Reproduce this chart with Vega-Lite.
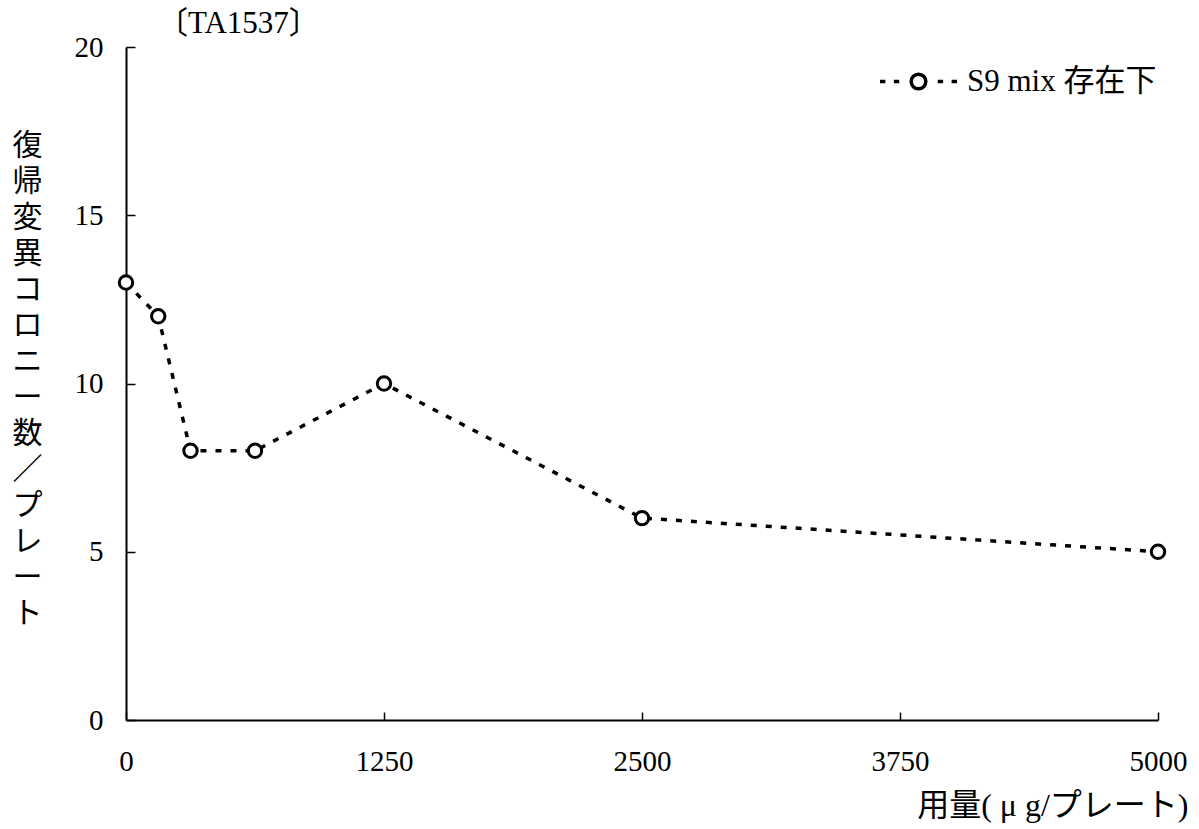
{
  "$schema": "https://vega.github.io/schema/vega-lite/v6.json",
  "width": 1032,
  "height": 673,
  "autosize": {"type": "none"},
  "padding": {"left": 126, "top": 47, "right": 41, "bottom": 109},
  "background": "white",
  "title": {
    "text": "〔TA1537〕",
    "anchor": "start",
    "dx": 145,
    "offset": -31,
    "baseline": "alphabetic",
    "font": "Liberation Serif, Noto Sans CJK JP",
    "fontSize": 31,
    "fontWeight": "normal",
    "color": "black"
  },
  "data": {
    "values": [
      {"dose": 0, "count": 13, "series": "S9 mix 存在下"},
      {"dose": 156.25, "count": 12, "series": "S9 mix 存在下"},
      {"dose": 312.5, "count": 8, "series": "S9 mix 存在下"},
      {"dose": 625, "count": 8, "series": "S9 mix 存在下"},
      {"dose": 1250, "count": 10, "series": "S9 mix 存在下"},
      {"dose": 2500, "count": 6, "series": "S9 mix 存在下"},
      {"dose": 5000, "count": 5, "series": "S9 mix 存在下"}
    ]
  },
  "encoding": {
    "x": {
      "field": "dose",
      "type": "quantitative",
      "scale": {"domain": [0, 5000], "nice": false, "zero": true},
      "axis": {
        "values": [0, 1250, 2500, 3750, 5000],
        "format": "d",
        "title": "用量( μ g/プレート)",
        "titleAnchor": "end",
        "titleAlign": "right",
        "titleX": 1062,
        "titleY": 85,
        "titleBaseline": "middle",
        "titleFont": "Liberation Serif, Noto Sans CJK JP",
        "titleFontSize": 32,
        "titleFontWeight": "normal",
        "titleColor": "black",
        "grid": false,
        "tickSize": -8,
        "tickWidth": 1.5,
        "tickColor": "black",
        "domainColor": "black",
        "domainWidth": 2,
        "labelPadding": 35,
        "labelBaseline": "top",
        "labelFont": "Liberation Serif",
        "labelFontSize": 29,
        "labelColor": "black",
        "labelFlush": false
      }
    },
    "y": {
      "field": "count",
      "type": "quantitative",
      "scale": {"domain": [0, 20], "nice": false},
      "axis": {
        "values": [0, 5, 10, 15, 20],
        "title": ["復", "帰", "変", "異", "コ", "ロ", "ニ", "ー", "数", "／", "プ", "レ", "ー", "ト"],
        "titleAngle": 0,
        "titleAlign": "center",
        "titleBaseline": "top",
        "titleX": -99,
        "titleY": 83,
        "titleLineHeight": 36,
        "titleFont": "Noto Sans CJK JP",
        "titleFontSize": 30,
        "titleFontWeight": "normal",
        "titleColor": "black",
        "grid": false,
        "tickSize": -9,
        "tickWidth": 1.5,
        "tickColor": "black",
        "domainColor": "black",
        "domainWidth": 2,
        "labelPadding": 32,
        "labelFont": "Liberation Serif",
        "labelFontSize": 29,
        "labelColor": "black",
        "labelFlush": false
      }
    }
  },
  "layer": [
    {
      "mark": {"type": "line", "color": "black", "strokeWidth": 3.5, "strokeDash": [6, 9]}
    },
    {
      "mark": {"type": "point", "shape": "circle", "filled": true, "fill": "white", "strokeWidth": 3, "size": 180, "opacity": 1},
      "encoding": {
        "stroke": {
          "field": "series",
          "type": "nominal",
          "scale": {"range": ["black"]},
          "legend": {
            "title": null,
            "orient": "none",
            "legendX": 752,
            "legendY": -6,
            "padding": 0,
            "symbolType": "M-1,0H-0.86M-0.64,0H-0.5M0.19,0A0.19,0.19 0 1,1 -0.19,0A0.19,0.19 0 1,1 0.19,0M0.5,0H0.64M0.86,0H1",
            "symbolSize": 5929,
            "symbolStrokeWidth": 3.5,
            "symbolFillColor": "white",
            "symbolStrokeColor": "black",
            "symbolOpacity": 1,
            "labelOffset": 8,
            "labelFont": "Liberation Serif, Noto Sans CJK JP",
            "labelFontSize": 31,
            "labelColor": "black",
            "labelLimit": 400
          }
        }
      }
    }
  ],
  "config": {
    "view": {"stroke": null}
  }
}
